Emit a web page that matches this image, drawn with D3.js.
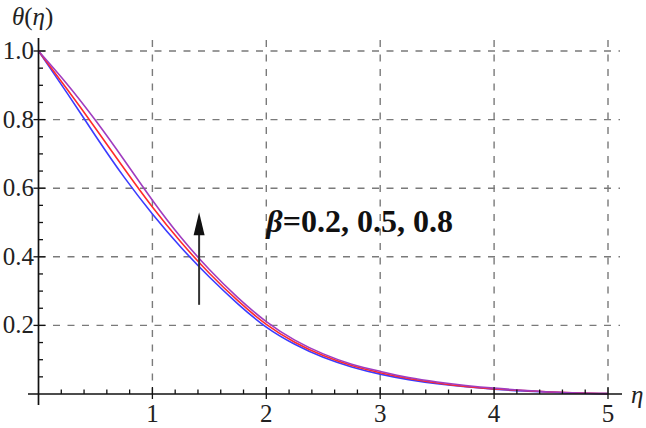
<!DOCTYPE html>
<html>
<head>
<meta charset="utf-8">
<script src="https://cdn.jsdelivr.net/npm/d3@7"></script>
<style>
  html, body { margin: 0; padding: 0; background: #fff; }
  svg { display: block; }
</style>
</head>
<body>
<script>
// ---- data ----
const etaValues = [0, 0.25, 0.5, 0.75, 1, 1.25, 1.5, 1.75, 2, 2.25, 2.5, 2.75, 3, 3.25, 3.5, 3.75, 4, 4.25, 4.5, 4.75, 5];
const thetaBeta02 = [1, 0.878, 0.753, 0.633, 0.525, 0.428, 0.341, 0.263, 0.195, 0.145, 0.107, 0.079, 0.058, 0.042, 0.030, 0.021, 0.014, 0.009, 0.005, 0.002, 0.001];
const thetaBeta05 = [1, 0.889, 0.775, 0.658, 0.545, 0.443, 0.352, 0.272, 0.203, 0.151, 0.112, 0.083, 0.062, 0.045, 0.032, 0.022, 0.015, 0.010, 0.006, 0.003, 0.001];
const thetaBeta08 = [1, 0.904, 0.798, 0.683, 0.565, 0.457, 0.363, 0.281, 0.211, 0.157, 0.117, 0.087, 0.066, 0.048, 0.035, 0.025, 0.017, 0.011, 0.006, 0.003, 0.001];
const seriesNames = ["β=0.2", "β=0.5", "β=0.8"];
const seriesColors = ["#3b3bff", "#ff2b2b", "#a03cc0"];
const xTickValues = [1, 2, 3, 4, 5];
const yTickValues = [0.2, 0.4, 0.6, 0.8, 1.0];
const yTickLabels = ["0.2", "0.4", "0.6", "0.8", "1.0"];
const annotationText = ["β", "=0.2, 0.5, 0.8"];

const W = 646, H = 428;
const svg = d3.select("body").append("svg").attr("width", W).attr("height", H);

const x = d3.scaleLinear().domain([0, 5]).range([38.5, 608]);
const y = d3.scaleLinear().domain([0, 1]).range([394, 51]);

const plotRight = 620, plotTop = 40;
const gridColor = "#7a7a7a";

// grid
svg.append("g").selectAll("line").data(xTickValues).join("line")
  .attr("x1", d => x(d)).attr("x2", d => x(d))
  .attr("y1", plotTop).attr("y2", y(0))
  .attr("stroke", gridColor).attr("stroke-width", 1.4)
  .attr("stroke-dasharray", "7,7.5");
svg.append("g").selectAll("line").data(yTickValues).join("line")
  .attr("x1", x(0)).attr("x2", plotRight)
  .attr("y1", d => y(d)).attr("y2", d => y(d))
  .attr("stroke", gridColor).attr("stroke-width", 1.4)
  .attr("stroke-dasharray", "7,7.5");

// curves
const allSeries = [thetaBeta02, thetaBeta05, thetaBeta08];
const line = d3.line().x(d => x(d[0])).y(d => y(Math.max(0, d[1]))).curve(d3.curveNatural);
allSeries.forEach((vals, i) => {
  svg.append("path")
    .datum(etaValues.map((e, j) => [e, vals[j]]))
    .attr("fill", "none")
    .attr("stroke", seriesColors[i])
    .attr("stroke-width", 1.6)
    .attr("d", line);
});

// axes
const axisColor = "#111";
svg.append("line").attr("x1", 28).attr("x2", 622).attr("y1", y(0)).attr("y2", y(0))
  .attr("stroke", axisColor).attr("stroke-width", 1.7);
svg.append("line").attr("x1", x(0)).attr("x2", x(0)).attr("y1", 38).attr("y2", 405)
  .attr("stroke", axisColor).attr("stroke-width", 1.7);

// x ticks
const xMinor = d3.range(0.2, 5.1, 0.2).filter(v => Math.abs(v - Math.round(v)) > 0.01);
svg.append("g").selectAll("line").data(xMinor).join("line")
  .attr("x1", d => x(d)).attr("x2", d => x(d))
  .attr("y1", y(0)).attr("y2", y(0) - 4.5)
  .attr("stroke", axisColor).attr("stroke-width", 1.3);
svg.append("g").selectAll("line").data(xTickValues).join("line")
  .attr("x1", d => x(d)).attr("x2", d => x(d))
  .attr("y1", y(0) + 5).attr("y2", y(0) - 7)
  .attr("stroke", axisColor).attr("stroke-width", 1.3);

// y ticks
const yMinor = d3.range(0.05, 1.001, 0.05).filter(v => Math.abs(v * 5 - Math.round(v * 5)) > 0.01);
svg.append("g").selectAll("line").data(yMinor).join("line")
  .attr("x1", x(0)).attr("x2", x(0) + 4.5)
  .attr("y1", d => y(d)).attr("y2", d => y(d))
  .attr("stroke", axisColor).attr("stroke-width", 1.3);
svg.append("g").selectAll("line").data(yTickValues).join("line")
  .attr("x1", x(0) - 5).attr("x2", x(0) + 7)
  .attr("y1", d => y(d)).attr("y2", d => y(d))
  .attr("stroke", axisColor).attr("stroke-width", 1.3);

// tick labels
const labelFont = "'Liberation Serif', 'DejaVu Serif', serif";
svg.append("g").selectAll("text").data(xTickValues).join("text")
  .attr("x", d => x(d)).attr("y", 422)
  .attr("text-anchor", "middle")
  .attr("font-family", labelFont).attr("font-size", 25).attr("fill", "#222")
  .text(d => d);
svg.append("g").selectAll("text").data(yTickValues).join("text")
  .attr("x", 34).attr("y", d => y(d) + 8)
  .attr("text-anchor", "end")
  .attr("font-family", labelFont).attr("font-size", 25).attr("fill", "#222")
  .text((d, i) => yTickLabels[i]);

// axis labels
const yl = svg.append("text").attr("x", 12).attr("y", 25)
  .attr("font-family", labelFont).attr("font-size", 25).attr("fill", "#222");
yl.append("tspan").attr("font-style", "italic").text("θ");
yl.append("tspan").text("(");
yl.append("tspan").attr("font-style", "italic").text("η");
yl.append("tspan").text(")");

svg.append("text").attr("x", 631).attr("y", 403)
  .attr("font-family", labelFont).attr("font-size", 25).attr("font-style", "italic").attr("fill", "#222")
  .text("η");

// arrow annotation
const arrowX = 1.41, arrowY0 = 0.26, arrowY1 = 0.53;
svg.append("line")
  .attr("x1", x(arrowX)).attr("x2", x(arrowX))
  .attr("y1", y(arrowY0)).attr("y2", y(arrowY1) + 18)
  .attr("stroke", "#333").attr("stroke-width", 2);
svg.append("path")
  .attr("d", `M${x(arrowX)},${y(arrowY1)} L${x(arrowX) - 5.5},${y(arrowY1) + 23} L${x(arrowX) + 5.5},${y(arrowY1) + 23} Z`)
  .attr("fill", "#111");

// beta text
const bt = svg.append("text").attr("x", x(2.0)).attr("y", y(0.472))
  .attr("font-family", labelFont).attr("font-size", 32).attr("font-weight", "bold").attr("fill", "#111");
bt.append("tspan").attr("font-style", "italic").text(annotationText[0]);
bt.append("tspan").text(annotationText[1]);
</script>
</body>
</html>
